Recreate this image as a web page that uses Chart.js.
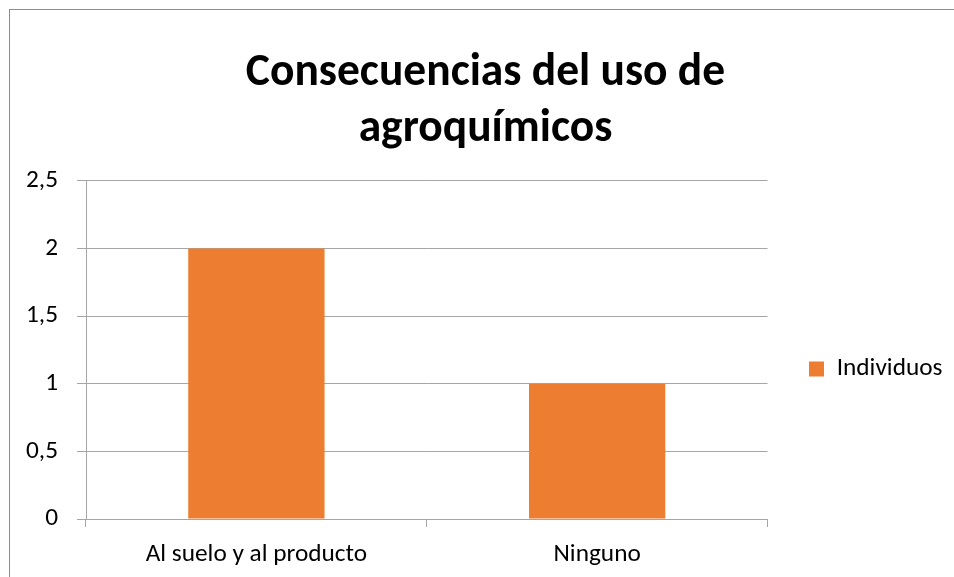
<!DOCTYPE html>
<html lang="es">
<head>
<meta charset="utf-8">
<title>Consecuencias del uso de agroquímicos</title>
<script src="https://cdn.jsdelivr.net/npm/chart.js@4.4.1/dist/chart.umd.min.js"></script>
<style>
  * { margin: 0; padding: 0; }
  body { background: #fff; width: 954px; height: 577px; overflow: hidden; }
  #wrap { width: 954px; height: 577px; position: relative; }
</style>
</head>
<body>
<div id="wrap"><canvas id="chart"></canvas></div>
<script>
  const categories = ["Al suelo y al producto", "Ninguno"];
  const individuos = [2, 1];
  const titleLines = ["Consecuencias del uso de", "agroquímicos"];
  const seriesName = "Individuos";

  const FONT = "Carlito, Lato, sans-serif";
  const LABEL_SIZE = 25.3;
  const gridColor = "#a6a6a6";

  // outer chart frame, the original picture is cropped at right and bottom
  const framePlugin = {
    id: "frame",
    beforeDraw(chart) {
      const ctx = chart.ctx;
      ctx.save();
      ctx.fillStyle = "#fff";
      ctx.fillRect(0, 0, chart.width, chart.height);
      ctx.strokeStyle = "#8c8c8c";
      ctx.lineWidth = 1;
      ctx.strokeRect(9.5, 9.5, chart.width + 20, chart.height + 20);
      ctx.restore();
    }
  };

  // legend and title sit a bit off the default spots in the original
  const placeBoxes = {
    id: "placeBoxes",
    afterLayout(chart) {
      const lg = chart.legend;
      if (lg) {
        lg.left = 799; lg.right = chart.width;
        lg.top = 319; lg.bottom = 419;
      }
      const t = chart.titleBlock;
      if (t) { t.left += 20; t.right += 20; }
    }
  };

  new Chart(document.getElementById("chart"), {
    type: "bar",
    data: {
      labels: categories,
      datasets: [{
        label: seriesName,
        data: individuos,
        backgroundColor: "#ed7d31",
        borderWidth: 0,
        barPercentage: 0.4,
        categoryPercentage: 1
      }]
    },
    options: {
      responsive: true,
      maintainAspectRatio: false,
      animation: false,
      layout: { padding: { left: 10, right: 33, top: 20, bottom: 8 } },
      plugins: {
        tooltip: { enabled: false },
        title: {
          display: true,
          text: titleLines,
          color: "#000",
          font: { family: FONT, size: 45.5, weight: "bold", lineHeight: 1.24 },
          padding: { top: 25, bottom: 23 }
        },
        legend: {
          position: "right",
          labels: {
            color: "#000",
            font: { family: FONT, size: LABEL_SIZE },
            boxWidth: 15,
            boxHeight: 15,
            padding: 10
          }
        }
      },
      scales: {
        x: {
          afterFit(scale) { scale.height = 50; },
          grid: { drawOnChartArea: false, drawTicks: true, tickLength: 8, color: gridColor },
          border: { color: gridColor },
          ticks: { color: "#000", font: { family: FONT, size: LABEL_SIZE }, padding: 12, maxRotation: 0 }
        },
        y: {
          min: 0,
          max: 2.5,
          afterFit(scale) { scale.width = 76; },
          ticks: {
            stepSize: 0.5,
            color: "#000",
            font: { family: FONT, size: LABEL_SIZE },
            padding: 19,
            callback: v => String(v).replace(".", ",")
          },
          grid: { color: gridColor, tickLength: 9 },
          border: { color: gridColor }
        }
      }
    },
    plugins: [framePlugin, placeBoxes]
  });
</script>
</body>
</html>
